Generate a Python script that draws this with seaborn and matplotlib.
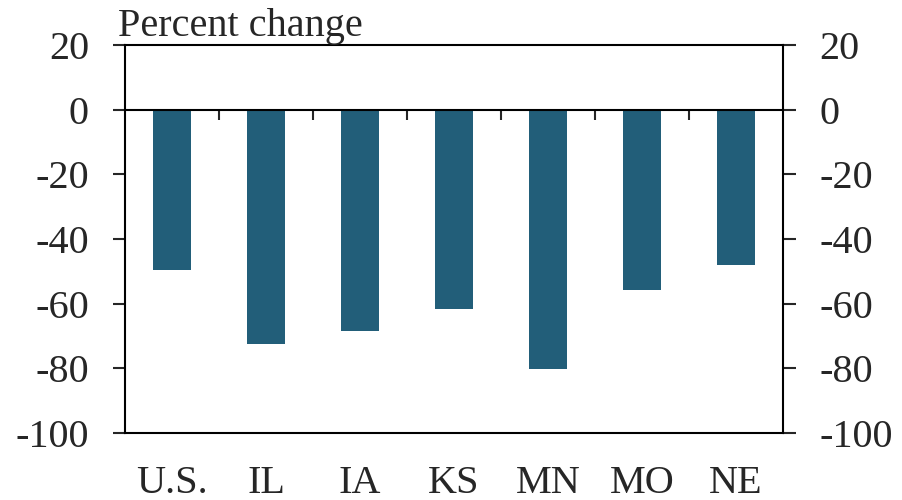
import pandas as pd
import matplotlib.pyplot as plt
import seaborn as sns

# === Data ===
states = ["U.S.", "IL", "IA", "KS", "MN", "MO", "NE"]
pct_change = [-49.5, -72.6, -68.5, -61.5, -80.1, -55.7, -47.9]
y_ticks = [20, 0, -20, -40, -60, -80, -100]

bar_color = "#225e79"

sns.set_style("ticks")
plt.rcParams['font.family'] = ['Liberation Serif', 'DejaVu Serif']
plt.rcParams['font.size'] = 29
plt.rcParams['axes.unicode_minus'] = False  # plain hyphen like the original

df = pd.DataFrame({"state": states, "change": pct_change})

fig = plt.figure(figsize=(9.02, 5.0), dpi=100)
ax = fig.add_axes([0.1386, 0.134, 0.7295, 0.776])

sns.barplot(data=df, x="state", y="change", color=bar_color, width=0.4,
            saturation=1, edgecolor="none", ax=ax)

ax.set_ylim(-100, 20)
ax.set_xlim(-0.5, len(states) - 0.5)
ax.set_yticks(y_ticks)
ax.set_xlabel("")
ax.set_ylabel("")

# spines all round
for side in ["left", "right", "top", "bottom"]:
    ax.spines[side].set_visible(True)
    ax.spines[side].set_linewidth(1.5)
    ax.spines[side].set_color("black")

# y ticks out on both sides
ax.tick_params(axis='y', which='both', direction='out', length=9, width=1.5,
               left=True, right=True, labelleft=True, labelright=True,
               pad=17, labelsize=29)
ax.tick_params(axis='x', length=0, pad=23, labelsize=29)

# zero line
ax.axhline(0, color="black", linewidth=1.5, zorder=3)

# small separators hanging from the zero line between categories
zero_frac = (0 - (-100)) / (20 - (-100))
sec = ax.secondary_xaxis(zero_frac)
sec.set_xticks([i + 0.5 for i in range(len(states) - 1)])
sec.tick_params(axis='x', direction='in', length=7.5, width=1.5,
                labeltop=False, labelbottom=False)
for s in sec.spines.values():
    s.set_visible(False)

# units label above the axis
ax.text(-0.011, 1.0, "Percent change", transform=ax.transAxes,
        ha="left", va="bottom", fontsize=29)

plt.savefig("out.png", dpi=100)
plt.close()
